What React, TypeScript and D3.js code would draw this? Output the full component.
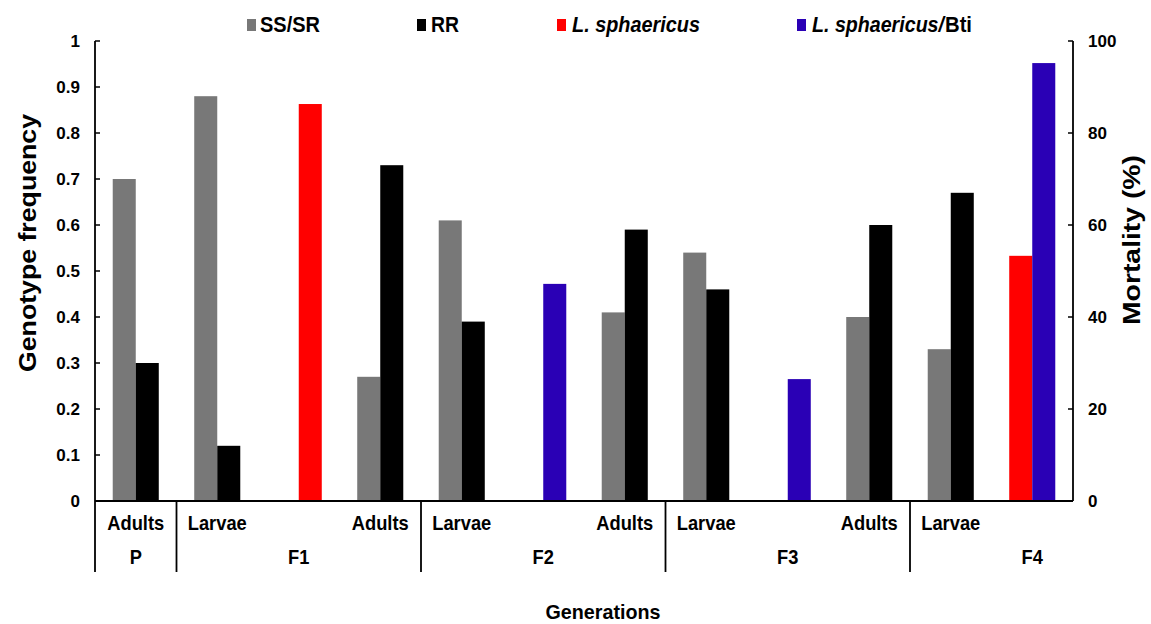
import React from "react";
import * as d3 from "d3";

const slots = ["P-Adults","F1-Larvae","F1-Mort","F1-Adults","F2-Larvae","F2-Mort","F2-Adults","F3-Larvae","F3-Mort","F3-Adults","F4-Larvae","F4-Mort"];
const stageLabels = ["Adults","Larvae","","Adults","Larvae","","Adults","Larvae","","Adults","Larvae",""];
const ssSr = [0.70, 0.88, null, 0.27, 0.61, null, 0.41, 0.54, null, 0.40, 0.33, null];
const rr = [0.30, 0.12, null, 0.73, 0.39, null, 0.59, 0.46, null, 0.60, 0.67, null];
const lSph = [null, null, 86.3, null, null, null, null, null, null, null, null, 53.3];
const lSphBti = [null, null, null, null, null, 47.2, null, null, 26.5, null, null, 95.2];
const generations = ["P","F1","F2","F3","F4"];
const genStart = [0, 1, 4, 7, 10];
const genSpan = [1, 3, 3, 3, 3];
const leftTicks = [0,0.1,0.2,0.3,0.4,0.5,0.6,0.7,0.8,0.9,1];
const rightTicks = [0,20,40,60,80,100];

const GRAY = "#787878", BLACK = "#000000", RED = "#ff0000", BLUE = "#2a00b5";
const FONT = "'Liberation Sans', Arial, sans-serif";

export default function App() {
  const W = 1151, H = 624;
  const L = 95, R = 1073, T = 41, B = 501;
  const x = d3.scaleBand<number>().domain(d3.range(slots.length)).range([L, R]).padding(0);
  const bw = x.bandwidth();
  const sub = d3.scaleBand<string>().domain(["a","b"]).range([0, bw]).paddingInner(0).paddingOuter(0.77);
  const y = d3.scaleLinear().domain([0, 1]).range([B, T]);
  const y2 = d3.scaleLinear().domain([0, 100]).range([B, T]);
  const sw = sub.bandwidth();

  const bars: any[] = [];
  slots.forEach((s, i) => {
    const x0 = x(i)!;
    if (ssSr[i] != null) bars.push({ x: x0 + sub("a")!, y: y(ssSr[i]!), h: B - y(ssSr[i]!), c: GRAY, k: s + "g" });
    if (rr[i] != null) bars.push({ x: x0 + sub("b")!, y: y(rr[i]!), h: B - y(rr[i]!), c: BLACK, k: s + "k" });
    const both = lSph[i] != null && lSphBti[i] != null;
    if (lSph[i] != null) bars.push({ x: x0 + sub(both ? "a" : "b")!, y: y2(lSph[i]!), h: B - y2(lSph[i]!), c: RED, k: s + "r" });
    if (lSphBti[i] != null) bars.push({ x: x0 + sub("b")!, y: y2(lSphBti[i]!), h: B - y2(lSphBti[i]!), c: BLUE, k: s + "b" });
  });

  const legend = [
    { sq: 247, c: GRAY, parts: [{ t: "SS/SR", it: false, x: 260, w: 60 }] },
    { sq: 417, c: BLACK, parts: [{ t: "RR", it: false, x: 431, w: 28 }] },
    { sq: 557, c: RED, parts: [{ t: "L. sphaericus", it: true, x: 572, w: 128 }] },
    { sq: 797, c: BLUE, parts: [{ t: "L. sphaericus/", it: true, x: 812, w: 132 }, { t: "Bti", it: false, x: 945, w: 27 }] },
  ];

  const dividers = genStart.slice(1).map((g) => x(g)!);

  return (
    <svg width={W} height={H} style={{ position: "absolute", left: 0, top: 0, background: "#fff" }} fontFamily={FONT} fontWeight="bold">
      <rect x={0} y={0} width={W} height={H} fill="#fff" />
      {bars.map((b) => (
        <rect key={b.k} x={b.x} y={b.y} width={sw} height={b.h} fill={b.c} />
      ))}
      <line x1={L} x2={L} y1={T} y2={572} stroke="#000" strokeWidth={1.8} />
      <line x1={L} x2={R} y1={B} y2={B} stroke="#000" strokeWidth={1.8} />
      <line x1={R} x2={R} y1={T} y2={B} stroke="#000" strokeWidth={1.8} />
      {leftTicks.map((t) => (
        <g key={"l" + t}>
          <line x1={L} x2={L + 5} y1={y(t)} y2={y(t)} stroke="#000" strokeWidth={1.5} />
          <text x={80} y={y(t) + 6} textAnchor="end" fontSize={17}>{t === 0 ? "0" : t === 1 ? "1" : d3.format(".1f")(t)}</text>
        </g>
      ))}
      {rightTicks.map((t) => (
        <g key={"r" + t}>
          <line x1={R - 5} x2={R} y1={y2(t)} y2={y2(t)} stroke="#000" strokeWidth={1.5} />
          <text x={1088} y={y2(t) + 6} textAnchor="start" fontSize={17}>{t}</text>
        </g>
      ))}
      {dividers.map((d, i) => (
        <line key={"d" + i} x1={d} x2={d} y1={B} y2={572} stroke="#000" strokeWidth={1.8} />
      ))}
      {stageLabels.map((s, i) => s ? (
        <text key={"s" + i} x={x(i)! + bw / 2} y={530} textAnchor="middle" fontSize={21}
          textLength={s === "Adults" ? 57 : 59} lengthAdjust="spacingAndGlyphs">{s}</text>
      ) : null)}
      {generations.map((g, i) => {
        const cx = x(genStart[i])! + (genSpan[i] * bw) / 2;
        return (
          <text key={"g" + g} x={0} y={564} textAnchor="middle" fontSize={21}
            transform={`translate(${cx},0) scale(0.87,1)`}>{g}</text>
        );
      })}
      <text x={603} y={619} textAnchor="middle" fontSize={21} textLength={115} lengthAdjust="spacingAndGlyphs">Generations</text>
      <text transform="translate(36,243) rotate(-90)" textAnchor="middle" fontSize={24} textLength={258} lengthAdjust="spacingAndGlyphs">Genotype frequency</text>
      <text transform="translate(1140,240) rotate(-90)" textAnchor="middle" fontSize={24} textLength={170} lengthAdjust="spacingAndGlyphs">Mortality (%)</text>
      {legend.map((l, i) => (
        <g key={"lg" + i}>
          <rect x={l.sq} y={19} width={9} height={12} fill={l.c} />
          {l.parts.map((p, j) => (
            <text key={j} x={p.x} y={32} fontSize={22} fontStyle={p.it ? "italic" : "normal"}
              textLength={p.w} lengthAdjust="spacingAndGlyphs">{p.t}</text>
          ))}
        </g>
      ))}
    </svg>
  );
}
